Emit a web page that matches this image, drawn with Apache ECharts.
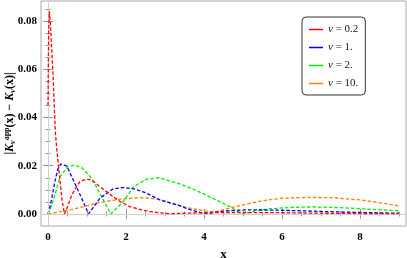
<!DOCTYPE html>
<html><head><meta charset="utf-8">
<script src="https://cdn.jsdelivr.net/npm/echarts@6/dist/echarts.min.js"></script>
<style>html,body{margin:0;padding:0;background:#fff}#c{width:407px;height:258px}</style>
</head><body><div id="c"></div>
<script>
// ---- data ----
const seriesNames = ['ν = 0.2', 'ν = 1.', 'ν = 2.', 'ν = 10.'];
const xRed  = [0,0.01,0.02,0.035,0.06,0.09,0.12,0.16,0.19,0.23,0.27,0.32,0.36,0.42,0.5,0.61,0.72,0.82,1.0,1.15,1.33,1.6,1.85,2.1,2.36,2.6,2.87,3.1,3.5,4.2,5,6,7,8,9];
const yRed  = [0.045,0.065,0.078,0.084,0.079,0.07,0.061,0.045,0.0335,0.026,0.0196,0.012,0.0058,0,0.003,0.0079,0.011,0.0134,0.0145,0.0138,0.0113,0.008,0.0051,0.003,0.0019,0.001,0.0005,0.0001,0.0003,0.0006,0.0006,0.0005,0.0003,0.0002,0.0001];
const xBlue = [0,0.05,0.09,0.17,0.25,0.33,0.42,0.48,0.65,0.85,1.04,1.33,1.67,1.93,2.2,2.5,2.87,3.33,3.6,4.03,4.5,5.1,5.8,6.5,7.3,8,9];
const yBlue = [0,0.003,0.0058,0.013,0.0185,0.0207,0.0202,0.0199,0.014,0.007,0,0.0065,0.0104,0.011,0.0104,0.0088,0.0058,0.0037,0.002,0,0.0012,0.0017,0.0016,0.0013,0.0009,0.0006,0.0003];
const xGreen = [0,0.07,0.14,0.31,0.5,0.69,0.88,1.08,1.25,1.42,1.61,1.93,2.19,2.53,2.85,3.33,3.7,4.0,4.35,4.67,4.97,5.3,5.6,6.2,6.8,7.5,8.2,9];
const yGreen = [0,0.0025,0.0058,0.0155,0.0195,0.0203,0.019,0.0155,0.011,0.0058,0,0.0051,0.0113,0.0144,0.015,0.0127,0.0105,0.0082,0.0055,0.003,0,0.0012,0.002,0.0027,0.0029,0.0026,0.002,0.0013];
const xOrange = [0,0.3,0.6,0.9,1.3,1.8,2.3,2.6,2.9,3.3,3.6,4.0,4.3,4.6,5.0,5.5,6.0,6.7,7.3,8.0,8.5,9.0];
const yOrange = [0,0.0009,0.0018,0.003,0.0047,0.006,0.0067,0.0066,0.0058,0.0038,0.0025,0.0013,0.0009,0.0022,0.0038,0.0055,0.0065,0.0069,0.0067,0.0058,0.0047,0.0033];
const xTickLabels = [0, 2, 4, 6, 8];
const xMinorTicks = [0,0.5,1,1.5,2,2.5,3,3.5,4,4.5,5,5.5,6,6.5,7,7.5,8,8.5,9];
const yTickLabels = [0, 0.02, 0.04, 0.06, 0.08];
const yMinorTicks = [0,0.005,0.01,0.015,0.02,0.025,0.03,0.035,0.04,0.045,0.05,0.055,0.06,0.065,0.07,0.075,0.08,0.085];
const colors = ['#ff0000', '#0000ff', '#00ee00', '#ff8000'];

const X_MIN = -0.1795, X_MAX = 9.179, Y_MIN = -0.005, Y_MAX = 0.0883;
const FONT = 'Liberation Serif';
const zip = (xs, ys) => xs.map((x, i) => [x, ys[i]]);
const allData = [zip(xRed, yRed), zip(xBlue, yBlue), zip(xGreen, yGreen), zip(xOrange, yOrange)];

function xAx(pos, ticks, len, labels) {
  return {
    type: 'value', position: pos, min: X_MIN, max: X_MAX,
    axisLine: { show: false }, splitLine: { show: false },
    axisTick: { show: true, inside: true, length: len, customValues: ticks, lineStyle: { color: '#999', width: 1 } },
    axisLabel: labels ? { show: true, customValues: labels, color: '#000', fontFamily: FONT, fontWeight: 'bold', fontSize: 11, margin: 6, formatter: v => String(v) } : { show: false },
  };
}
function yAx(pos, ticks, len, labels) {
  return {
    type: 'value', position: pos, min: Y_MIN, max: Y_MAX,
    axisLine: { show: false }, splitLine: { show: false },
    axisTick: { show: true, inside: true, length: len, customValues: ticks, lineStyle: { color: '#999', width: 1 } },
    axisLabel: labels ? { show: true, customValues: labels, color: '#000', fontFamily: FONT, fontWeight: 'bold', fontSize: 11, margin: 4, formatter: v => v.toFixed(2) } : { show: false },
  };
}

const xMain = xAx('bottom', xTickLabels, 5, xTickLabels);
xMain.name = 'x';
xMain.nameLocation = 'middle';
xMain.nameGap = 22;
xMain.nameMoveOverlap = false;
xMain.nameTextStyle = { fontFamily: FONT, fontWeight: 'bold', fontSize: 13, color: '#000' };

const yMain = yAx('left', yTickLabels, 5, yTickLabels);
yMain.name = '{r||}{i|K}{sub|ν}{sup|app}{r|(x) − }{i|K}{sub|ν}{r|(x)|}';
yMain.nameLocation = 'middle';
yMain.nameGap = 24;
yMain.nameMoveOverlap = false;
yMain.nameTextStyle = {
  color: '#000', fontFamily: FONT, fontWeight: 'bold', fontSize: 12,
  rich: {
    r: { fontFamily: FONT, fontWeight: 'bold', fontSize: 12, lineHeight: 14, color: '#000' },
    i: { fontFamily: FONT, fontWeight: 'bold', fontStyle: 'italic', fontSize: 12, lineHeight: 14, color: '#000' },
    sub: { fontFamily: FONT, fontWeight: 'bold', fontStyle: 'italic', fontSize: 8, lineHeight: 8, verticalAlign: 'bottom', color: '#000' },
    sup: { fontFamily: FONT, fontWeight: 'bold', fontSize: 8, lineHeight: 8, verticalAlign: 'top', color: '#000' }
  }
};

const series = allData.map((d, i) => ({
  name: seriesNames[i], type: 'line', data: d, showSymbol: false, symbol: 'none',
  xAxisIndex: 0, yAxisIndex: 0, z: 5 - i,
  lineStyle: { color: colors[i], width: 1.3, type: [3.5, 2] },
  itemStyle: { color: colors[i] },
  animation: false
}));
series[0].markLine = {
  silent: true, symbol: 'none', animation: false, label: { show: false },
  lineStyle: { color: '#d0d0d0', type: 'solid', width: 1 },
  data: [{ xAxis: 0 }, { yAxis: 0 }]
};

const chart = echarts.init(document.getElementById('c'), null, { renderer: 'canvas' });
chart.setOption({
  animation: false,
  backgroundColor: '#fff',
  grid: { left: 41, right: 1, top: 1, bottom: 32, containLabel: false, outerBoundsMode: 'none', show: true, borderColor: '#a8a8a8', borderWidth: 1, backgroundColor: 'transparent' },
  xAxis: [xMain, xAx('bottom', xMinorTicks, 2.5, null), xAx('top', xTickLabels, 5, null), xAx('top', xMinorTicks, 2.5, null)],
  yAxis: [yMain, yAx('left', yMinorTicks, 2.5, null), yAx('right', yTickLabels, 5, null), yAx('right', yMinorTicks, 2.5, null)],
  legend: {
    orient: 'vertical', left: 302, top: 17,
    padding: [7, 7, 6, 7], itemGap: 7, itemWidth: 14, itemHeight: 12, itemTextGap: 5,
    backgroundColor: '#fff', borderColor: '#333', borderWidth: 1, borderRadius: 4,
    data: seriesNames.map((n, i) => ({ name: n, icon: 'path://M0,0 L14,0 L14,1.5 L0,1.5 Z', itemStyle: { color: colors[i] } })),
    textStyle: {
      fontFamily: FONT, fontSize: 11, color: '#222',
      rich: { i: { fontFamily: FONT, fontStyle: 'italic', fontSize: 11, color: '#222' }, t: { fontFamily: FONT, fontSize: 11, color: '#222' } }
    },
    formatter: n => '{i|ν}{t|' + n.slice(1) + '}'
  },
  series: series
});
</script>
</body></html>
